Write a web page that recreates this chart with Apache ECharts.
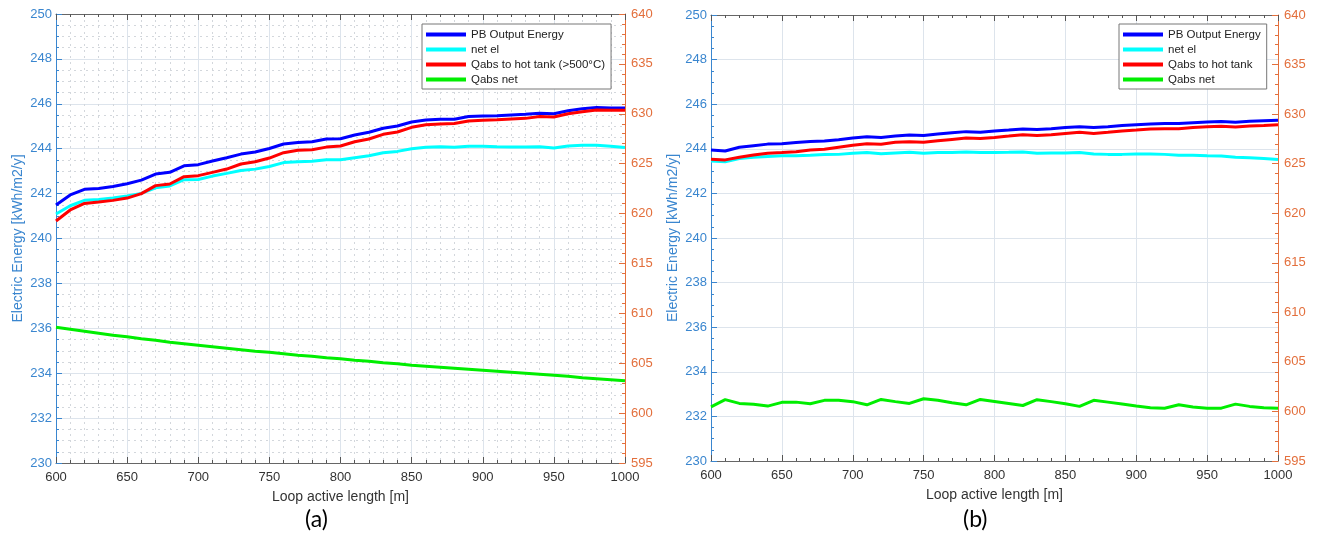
<!DOCTYPE html>
<html>
<head>
<meta charset="utf-8">
<script src="https://cdn.jsdelivr.net/npm/echarts@6/dist/echarts.min.js"></script>
<style>
  html, body { margin: 0; background: #fff; }
  #chart { width: 1317px; height: 540px; }
</style>
</head>
<body>
<div id="chart"></div>
<script>
  // loop active length [m]
  const lengths = [600, 610, 620, 630, 640, 650, 660, 670, 680, 690, 700, 710, 720, 730, 740, 750, 760, 770, 780, 790,
    800, 810, 820, 830, 840, 850, 860, 870, 880, 890, 900, 910, 920, 930, 940, 950, 960, 970, 980, 990, 1000];

  // panel (a) - left axis [kWh/m2/y]
  const pbOutputA = [241.49, 241.94, 242.19, 242.23, 242.32, 242.44, 242.60, 242.87, 242.95, 243.24, 243.29, 243.45, 243.60, 243.76,
    243.85, 244.01, 244.21, 244.28, 244.31, 244.43, 244.44, 244.61, 244.73, 244.91, 245.01, 245.19, 245.28, 245.31, 245.31,
    245.43, 245.46, 245.47, 245.50, 245.53, 245.58, 245.56, 245.69, 245.78, 245.83, 245.81, 245.81];
  const netElA = [241.09, 241.46, 241.70, 241.74, 241.80, 241.89, 242.01, 242.26, 242.34, 242.62, 242.63, 242.78, 242.90, 243.03,
    243.09, 243.21, 243.38, 243.42, 243.44, 243.51, 243.51, 243.60, 243.69, 243.82, 243.88, 244.00, 244.06, 244.09, 244.06,
    244.11, 244.11, 244.09, 244.08, 244.08, 244.09, 244.03, 244.12, 244.15, 244.15, 244.11, 244.05];
  // panel (a) - right axis
  const qHotA = [619.25, 620.36, 621.01, 621.15, 621.32, 621.55, 622.00, 622.80, 622.96, 623.70, 623.80, 624.13, 624.46, 624.97,
    625.20, 625.56, 626.10, 626.34, 626.40, 626.66, 626.77, 627.20, 627.47, 627.94, 628.17, 628.64, 628.91, 628.98, 629.02,
    629.27, 629.34, 629.40, 629.47, 629.54, 629.72, 629.67, 630.01, 630.21, 630.37, 630.35, 630.35];
  const qNetA = [608.6, 608.4, 608.2, 608.0, 607.8, 607.65, 607.45, 607.3, 607.1, 606.95, 606.8, 606.65, 606.5, 606.35, 606.2,
    606.1, 605.95, 605.8, 605.7, 605.55, 605.45, 605.3, 605.2, 605.05, 604.95, 604.8, 604.7, 604.6, 604.5, 604.4, 604.3,
    604.2, 604.1, 604.0, 603.9, 603.8, 603.7, 603.55, 603.45, 603.35, 603.25];

  // panel (b) - left axis
  const pbOutputB = [243.95, 243.90, 244.07, 244.14, 244.21, 244.23, 244.28, 244.33, 244.35, 244.41, 244.48, 244.54, 244.51, 244.57,
    244.62, 244.60, 244.66, 244.72, 244.77, 244.74, 244.80, 244.84, 244.89, 244.86, 244.90, 244.95, 244.99, 244.95, 244.99,
    245.04, 245.08, 245.11, 245.13, 245.13, 245.17, 245.20, 245.22, 245.19, 245.23, 245.26, 245.28];
  const netElB = [243.45, 243.42, 243.56, 243.62, 243.66, 243.69, 243.69, 243.71, 243.74, 243.75, 243.80, 243.83, 243.78, 243.81,
    243.84, 243.80, 243.83, 243.83, 243.86, 243.83, 243.83, 243.84, 243.86, 243.80, 243.81, 243.81, 243.83, 243.77, 243.75,
    243.75, 243.77, 243.77, 243.75, 243.71, 243.71, 243.69, 243.68, 243.62, 243.60, 243.57, 243.52];
  // panel (b) - right axis
  const qHotB = [625.44, 625.38, 625.65, 625.87, 626.05, 626.12, 626.21, 626.39, 626.46, 626.66, 626.86, 627.02, 626.95, 627.15,
    627.22, 627.15, 627.31, 627.45, 627.58, 627.54, 627.65, 627.78, 627.92, 627.83, 627.92, 628.05, 628.17, 628.05, 628.17,
    628.30, 628.39, 628.50, 628.53, 628.53, 628.66, 628.73, 628.77, 628.71, 628.80, 628.86, 628.93];
  const qNetB = [600.47, 601.19, 600.81, 600.72, 600.54, 600.92, 600.94, 600.78, 601.12, 601.12, 600.99, 600.67, 601.21, 600.99,
    600.81, 601.28, 601.12, 600.87, 600.67, 601.21, 601.01, 600.81, 600.60, 601.19, 600.99, 600.78, 600.51, 601.12, 600.94,
    600.74, 600.54, 600.38, 600.33, 600.67, 600.45, 600.33, 600.33, 600.74, 600.51, 600.38, 600.33];

  const seriesNames = ['PB Output Energy', 'net el', 'Qabs to hot tank (>500°C)', 'Qabs net'];
  const seriesNamesB = ['PB Output Energy', 'net el', 'Qabs to hot tank', 'Qabs net'];

  const blueAxis = '#3a86cf';
  const orangeAxis = '#e36f3c';
  const font = '"Liberation Sans", Arial, sans-serif';

  const zip = (vals) => lengths.map((x, i) => [x, vals[i]]);
  const plain = (v) => String(v);

  const makeX = (grid, minorGrid) => ([
    {
      type: 'value', gridIndex: grid, position: 'bottom', min: 600, max: 1000, interval: 50,
      name: 'Loop active length [m]', nameLocation: 'middle', nameGap: 27,
      nameTextStyle: { color: '#333', fontSize: 14, fontFamily: font },
      axisLine: { show: true, lineStyle: { color: '#666', width: 1 } },
      axisTick: { show: true, inside: true, length: 6, lineStyle: { color: '#555' } },
      minorTick: { show: true, splitNumber: 5, length: 3, lineStyle: { color: '#555' } },
      axisLabel: { color: '#333', fontSize: 13, fontFamily: font, margin: 8, formatter: plain },
      splitLine: { show: true, lineStyle: { color: '#dde4ec' } },
      minorSplitLine: { show: minorGrid, lineStyle: { color: '#d3d7dc', type: [2, 4] } },
    },
    {
      type: 'value', gridIndex: grid, position: 'top', min: 600, max: 1000, interval: 50,
      axisLine: { show: true, lineStyle: { color: '#666', width: 1 } },
      axisTick: { show: true, inside: true, length: 6, lineStyle: { color: '#555' } },
      minorTick: { show: true, splitNumber: 5, length: 3, lineStyle: { color: '#555' } },
      axisLabel: { show: false },
      splitLine: { show: false },
    },
  ]);

  const makeY = (grid, minorGrid) => ([
    {
      type: 'value', gridIndex: grid, position: 'left', min: 230, max: 250, interval: 2,
      name: 'Electric Energy [kWh/m2/y]', nameLocation: 'middle', nameGap: 31,
      nameTextStyle: { color: blueAxis, fontSize: 14, fontFamily: font },
      axisLine: { show: true, lineStyle: { color: blueAxis, width: 1 } },
      axisTick: { show: true, inside: true, length: 6, lineStyle: { color: blueAxis } },
      minorTick: { show: true, splitNumber: 4, length: 3, lineStyle: { color: blueAxis } },
      axisLabel: { color: blueAxis, fontSize: 13, fontFamily: font, margin: 4 },
      splitLine: { show: true, lineStyle: { color: '#dde4ec' } },
      minorSplitLine: { show: minorGrid, lineStyle: { color: '#d3d7dc', type: [2, 4] } },
    },
    {
      type: 'value', gridIndex: grid, position: 'right', min: 595, max: 640, interval: 5,
      axisLine: { show: true, lineStyle: { color: orangeAxis, width: 1 } },
      axisTick: { show: true, inside: true, length: 6, lineStyle: { color: orangeAxis } },
      minorTick: { show: true, splitNumber: 5, length: 3, lineStyle: { color: orangeAxis } },
      axisLabel: { color: orangeAxis, fontSize: 13, fontFamily: font, margin: 6 },
      splitLine: { show: false },
    },
  ]);

  const colors = ['#0000ff', '#00ffff', '#ff0000', '#00ee00'];

  const line = (name, vals, xIdx, yIdx, color) => ({
    name, type: 'line', xAxisIndex: xIdx, yAxisIndex: yIdx, data: zip(vals),
    showSymbol: false, symbol: 'none', color,
    lineStyle: { color, width: 3 },
    emphasis: { disabled: true },
  });

  const legendBase = {
    orient: 'vertical', top: 24, icon: 'rect', itemWidth: 40, itemHeight: 4, itemGap: 2,
    padding: [4, 6, 3, 4], borderColor: '#777', borderWidth: 1, backgroundColor: '#fff',
    textStyle: { color: '#222', fontSize: 11.5, fontFamily: font, lineHeight: 13 },
  };

  const option = {
    animation: false,
    backgroundColor: '#fff',
    grid: [
      { left: 56, top: 14, width: 569, height: 449 },
      { left: 711, top: 15, width: 567, height: 446 },
    ],
    xAxis: [...makeX(0, true), ...makeX(1, false)],
    yAxis: [...makeY(0, true), ...makeY(1, false)],
    legend: [
      { ...legendBase, left: 422, data: seriesNames },
      { ...legendBase, left: 1119, data: seriesNamesB },
    ],
    graphic: [
      { type: 'text', left: 305, top: 508, style: { text: '(a)', fontSize: 23, fontFamily: 'Lato, "Open Sans", sans-serif', fill: '#000' } },
      { type: 'text', left: 963, top: 508, style: { text: '(b)', fontSize: 23, fontFamily: 'Lato, "Open Sans", sans-serif', fill: '#000' } },
    ],
    series: [
      line(seriesNames[0], pbOutputA, 0, 0, colors[0]),
      line(seriesNames[1], netElA, 0, 0, colors[1]),
      line(seriesNames[2], qHotA, 0, 1, colors[2]),
      line(seriesNames[3], qNetA, 0, 1, colors[3]),
      line(seriesNamesB[0], pbOutputB, 2, 2, colors[0]),
      line(seriesNamesB[1], netElB, 2, 2, colors[1]),
      line(seriesNamesB[2], qHotB, 2, 3, colors[2]),
      line(seriesNamesB[3], qNetB, 2, 3, colors[3]),
    ],
  };

  const myChart = echarts.init(document.getElementById('chart'));
  myChart.setOption(option);
</script>
</body>
</html>
